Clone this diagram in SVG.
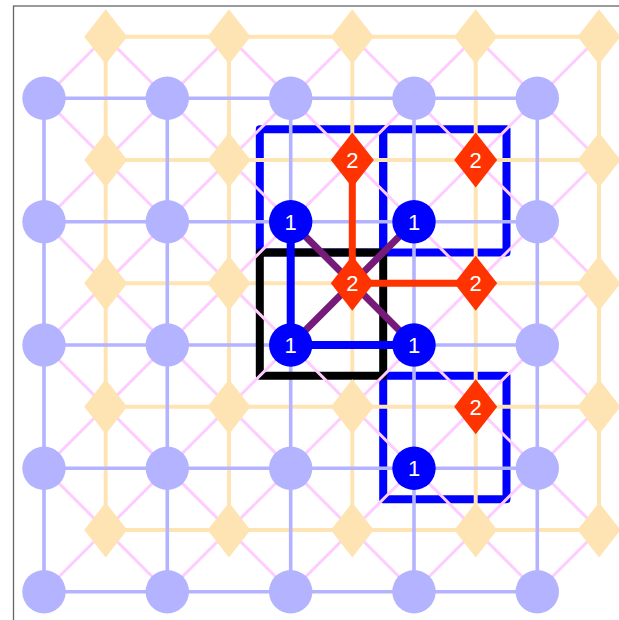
<svg xmlns="http://www.w3.org/2000/svg" width="619" height="620" viewBox="0 0 619 620">
<style>
.frame{fill:#fff;stroke:#666;stroke-width:1.3}
.sq{fill:none;stroke:#0000ff;stroke-width:8;stroke-linejoin:round}
.sqk{fill:none;stroke:#000;stroke-width:8;stroke-linejoin:round}
.og{stroke:#ffe4b3;stroke-width:4;fill:none}
.bg{stroke:#b3b3ff;stroke-width:3.6;fill:none}
.pk{stroke:#ffccff;stroke-width:3;fill:none}
.pu{stroke:#771b7b;stroke-width:7;fill:none}
.rd{stroke:#ff3300;stroke-width:7;fill:none}
.bl{stroke:#0000ff;stroke-width:8;fill:none}
.c0{fill:#b3b3ff}
.c1{fill:#0000ff}
.d0{fill:#ffe4b3}
.d1{fill:#ff3300}
.t{fill:#fff;font-family:"Liberation Sans",Arial,sans-serif;font-size:22px;text-anchor:middle}
</style>
<defs>
<circle id="circ" r="21.7"/>
<path id="dia" d="M0,-27.5 L21.5,0 L0,27.5 L-21.5,0 Z"/>
</defs>
<rect class="frame" x="13.5" y="6" width="700" height="700"/>
<g id="squares">
<rect class="sq" x="259.8" y="129.2" width="123.4" height="123.3"/>
<rect class="sq" x="383.2" y="129.2" width="123.3" height="123.3"/>
<rect class="sq" x="383.2" y="375.8" width="123.3" height="123.4"/>
</g>
<g id="connectors">
<g id="orange-grid" class="og">
<path d="M105.7,36.7H599M105.7,160H599M105.7,283.3H599M105.7,406.7H599M105.7,530H599"/>
<path d="M105.7,36.7V530M229,36.7V530M352.3,36.7V530M475.7,36.7V530M599,36.7V530"/>
</g>
<g id="blue-grid" class="bg">
<path d="M44,98.3H537.3M44,221.7H537.3M44,345H537.3M44,468.3H537.3M44,591.7H537.3"/>
<path d="M44,98.3V591.7M167.3,98.3V591.7M290.7,98.3V591.7M414,98.3V591.7M537.3,98.3V591.7"/>
</g>
<rect id="black-square" class="sqk" x="259.8" y="252.5" width="123.4" height="123.3"/>
<g id="pink-diagonals" class="pk">
<path d="M44,468.3L167.3,591.7M44,345L290.7,591.7M44,221.7L414,591.7M44,98.3L537.3,591.7M105.7,36.7L599,530M229,36.7L599,406.7M352.3,36.7L599,283.3M475.7,36.7L599,160"/>
<path d="M44,98.3L105.7,36.7M44,221.7L229,36.7M44,345L352.3,36.7M44,468.3L475.7,36.7M44,591.7L599,36.7M167.3,591.7L599,160M290.7,591.7L599,283.3M414,591.7L599,406.7M537.3,591.7L599,530"/>
</g>
<g id="purple-links" class="pu">
<path d="M290.7,221.7L414,345M414,221.7L290.7,345"/>
</g>
<g id="red-links" class="rd">
<path d="M352.3,160V283.3H475.7"/>
</g>
<g id="blue-links" class="bl">
<path d="M290.7,221.7V345H414"/>
</g>
</g>
<g id="diamonds">
<g id="d00"><use href="#dia" class="d0" x="105.7" y="36.7"/></g>
<g id="d10"><use href="#dia" class="d0" x="229" y="36.7"/></g>
<g id="d20"><use href="#dia" class="d0" x="352.3" y="36.7"/></g>
<g id="d30"><use href="#dia" class="d0" x="475.7" y="36.7"/></g>
<g id="d40"><use href="#dia" class="d0" x="599" y="36.7"/></g>
<g id="d01"><use href="#dia" class="d0" x="105.7" y="160"/></g>
<g id="d11"><use href="#dia" class="d0" x="229" y="160"/></g>
<g id="d21"><use href="#dia" class="d1" x="352.3" y="160"/><text class="t" x="352.3" y="168">2</text></g>
<g id="d31"><use href="#dia" class="d1" x="475.7" y="160"/><text class="t" x="475.7" y="168">2</text></g>
<g id="d41"><use href="#dia" class="d0" x="599" y="160"/></g>
<g id="d02"><use href="#dia" class="d0" x="105.7" y="283.3"/></g>
<g id="d12"><use href="#dia" class="d0" x="229" y="283.3"/></g>
<g id="d22"><use href="#dia" class="d1" x="352.3" y="283.3"/><text class="t" x="352.3" y="291.3">2</text></g>
<g id="d32"><use href="#dia" class="d1" x="475.7" y="283.3"/><text class="t" x="475.7" y="291.3">2</text></g>
<g id="d42"><use href="#dia" class="d0" x="599" y="283.3"/></g>
<g id="d03"><use href="#dia" class="d0" x="105.7" y="406.7"/></g>
<g id="d13"><use href="#dia" class="d0" x="229" y="406.7"/></g>
<g id="d23"><use href="#dia" class="d0" x="352.3" y="406.7"/></g>
<g id="d33"><use href="#dia" class="d1" x="475.7" y="406.7"/><text class="t" x="475.7" y="414.7">2</text></g>
<g id="d43"><use href="#dia" class="d0" x="599" y="406.7"/></g>
<g id="d04"><use href="#dia" class="d0" x="105.7" y="530"/></g>
<g id="d14"><use href="#dia" class="d0" x="229" y="530"/></g>
<g id="d24"><use href="#dia" class="d0" x="352.3" y="530"/></g>
<g id="d34"><use href="#dia" class="d0" x="475.7" y="530"/></g>
<g id="d44"><use href="#dia" class="d0" x="599" y="530"/></g>
</g>
<g id="circles">
<g id="c00"><use href="#circ" class="c0" x="44" y="98.3"/></g>
<g id="c10"><use href="#circ" class="c0" x="167.3" y="98.3"/></g>
<g id="c20"><use href="#circ" class="c0" x="290.7" y="98.3"/></g>
<g id="c30"><use href="#circ" class="c0" x="414" y="98.3"/></g>
<g id="c40"><use href="#circ" class="c0" x="537.3" y="98.3"/></g>
<g id="c01"><use href="#circ" class="c0" x="44" y="221.7"/></g>
<g id="c11"><use href="#circ" class="c0" x="167.3" y="221.7"/></g>
<g id="c21"><use href="#circ" class="c1" x="290.7" y="221.7"/><text class="t" x="290.7" y="229.7">1</text></g>
<g id="c31"><use href="#circ" class="c1" x="414" y="221.7"/><text class="t" x="414" y="229.7">1</text></g>
<g id="c41"><use href="#circ" class="c0" x="537.3" y="221.7"/></g>
<g id="c02"><use href="#circ" class="c0" x="44" y="345"/></g>
<g id="c12"><use href="#circ" class="c0" x="167.3" y="345"/></g>
<g id="c22"><use href="#circ" class="c1" x="290.7" y="345"/><text class="t" x="290.7" y="353">1</text></g>
<g id="c32"><use href="#circ" class="c1" x="414" y="345"/><text class="t" x="414" y="353">1</text></g>
<g id="c42"><use href="#circ" class="c0" x="537.3" y="345"/></g>
<g id="c03"><use href="#circ" class="c0" x="44" y="468.3"/></g>
<g id="c13"><use href="#circ" class="c0" x="167.3" y="468.3"/></g>
<g id="c23"><use href="#circ" class="c0" x="290.7" y="468.3"/></g>
<g id="c33"><use href="#circ" class="c1" x="414" y="468.3"/><text class="t" x="414" y="476.3">1</text></g>
<g id="c43"><use href="#circ" class="c0" x="537.3" y="468.3"/></g>
<g id="c04"><use href="#circ" class="c0" x="44" y="591.7"/></g>
<g id="c14"><use href="#circ" class="c0" x="167.3" y="591.7"/></g>
<g id="c24"><use href="#circ" class="c0" x="290.7" y="591.7"/></g>
<g id="c34"><use href="#circ" class="c0" x="414" y="591.7"/></g>
<g id="c44"><use href="#circ" class="c0" x="537.3" y="591.7"/></g>
</g>
</svg>
